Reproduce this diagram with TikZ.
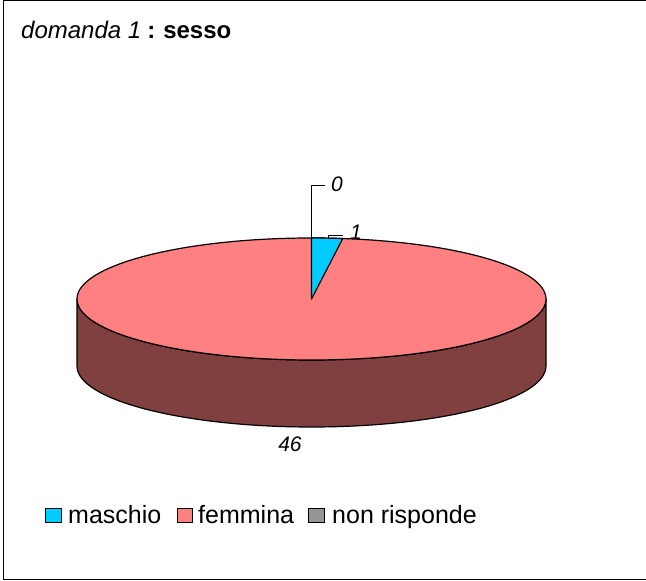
\documentclass[tikz,border=0pt]{standalone}
\usepackage{fontspec}
\setmainfont{Liberation Sans}
\definecolor{slblue}{HTML}{00CCFF}
\definecolor{slpink}{HTML}{FF8080}
\definecolor{slside}{HTML}{804040}
\definecolor{slgrey}{HTML}{969696}
\begin{document}
\begin{tikzpicture}[x=1pt,y=1pt,
  outl/.style={draw=black,line width=1.2pt,line join=round},
  lbl/.style={font=\fontsize{21}{25}\selectfont\itshape,inner sep=0pt,anchor=base},
  legbox/.style={draw=black,line width=1.3pt,minimum width=15.5pt,minimum height=14.5pt,inner sep=0pt},
  legtxt/.style={font=\fontsize{25}{30}\selectfont,inner sep=0pt,anchor=base west},
  leader/.style={draw=black,line width=1pt}]
\useasboundingbox (0,0) rectangle (646,581);
\draw[line width=1pt] (650,1) -- (3.5,1) -- (3.5,580) -- (650,580);
% pie
\coordinate (C) at (311.5,282);
\path[outl,fill=slside] (77,282) -- (77,215)
  arc[start angle=180,end angle=360,x radius=234.5,y radius=61]
  -- (546,282)
  arc[start angle=0,end angle=-180,x radius=234.5,y radius=61] -- cycle;
\path[outl,fill=slpink] (C) ellipse[x radius=234.5,y radius=61];
\path[outl,fill=slblue] (C) -- (311.5,343)
  arc[start angle=90,end angle=82.34,x radius=234.5,y radius=61] -- cycle;
% labels
\coordinate (z0) at (311.5,343);
\coordinate (k0) at (325,395);
\node[lbl] (l0) at (337,389) {0};
\draw[leader] (z0) |- (k0);
\coordinate (z1) at (328,343);
\coordinate (k1) at (343,345);
\node[lbl] (l1) at (356,341) {1};
\draw[leader] (z1) |- (k1);
\node[lbl] (l46) at (290,129) {46};
% title
\node[anchor=base west,inner sep=0pt,font=\fontsize{24}{29}\selectfont] (title) at (21,542)
  {\textit{domanda 1}\hspace{6pt}\textbf{:}\hspace{8pt}\textbf{sesso}};
% legend
\node[legbox,fill=slblue] (b1) at (53.5,65.5) {};
\node[legtxt] (t1) at (68,57) {maschio};
\node[legbox,fill=slpink] (b2) at (185,65.5) {};
\node[legtxt] (t2) at (198,57) {femmina};
\node[legbox,fill=slgrey] (b3) at (316.5,65.5) {};
\node[legtxt] (t3) at (332,57) {non risponde};
\end{tikzpicture}
\end{document}
